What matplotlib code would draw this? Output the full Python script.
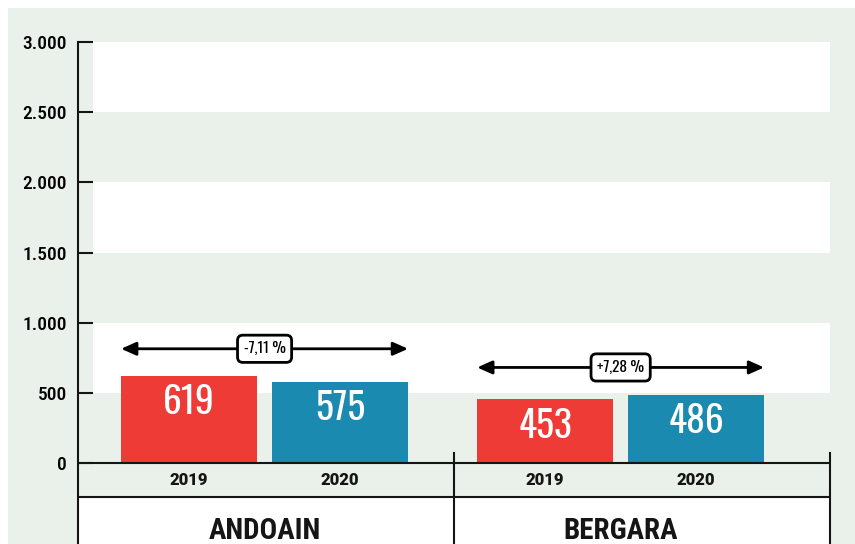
import matplotlib
matplotlib.use("Agg")
import matplotlib.pyplot as plt
from matplotlib.patches import Rectangle

# data
towns = ["ANDOAIN", "BERGARA"]
years = ["2019", "2020"]
values_2019 = [619, 453]
values_2020 = [575, 486]
changes = ["-7,11 %", "+7,28 %"]
yticks = [0, 500, 1000, 1500, 2000, 2500, 3000]
ytick_labels = ["0", "500", "1.000", "1.500", "2.000", "2.500", "3.000"]

RED = "#ee3b36"
BLUE = "#1a8ab0"
GREEN_BG = "#eaf0ea"
DARK = "#151515"
NUM_FONT = ["Oswald", "DejaVu Sans"]
COND_FONT = ["Roboto Condensed", "DejaVu Sans"]
BOLD_FONT = ["Roboto", "DejaVu Sans"]

fig = plt.figure(figsize=(8.55, 5.44), dpi=100)
fig.patch.set_facecolor("white")
# light green panel behind the chart
fig.patches.append(Rectangle((8 / 855, 0), 1, 536 / 544, transform=fig.transFigure,
                             facecolor=GREEN_BG, edgecolor="none", zorder=-10))

ax = fig.add_axes([78 / 855, 0, 752 / 855, 502 / 544])
ax.set_zorder(1)
ax.set_facecolor("none")
ymin = -577
ax.set_ylim(ymin, 3000)
ax.set_xlim(-0.524, 1.588)

# alternating white bands
for lo in [500, 1500, 2500]:
    ax.axhspan(lo, lo + 500, xmin=0.02, xmax=1, facecolor="white", edgecolor="none", zorder=0)

# row under the axis with the years, and the town row
row_y = -242
ax.axhspan(ymin, row_y, facecolor="white", edgecolor="none", zorder=0)
ax.axhline(0, color=DARK, lw=1.5, zorder=3)
ax.axhline(row_y, color=DARK, lw=1.5, zorder=3)
for xv in [0.532, 1.588]:
    ax.plot([xv, xv], [ymin, 71], color=DARK, lw=1.5, clip_on=False, zorder=3)

width = 0.382
off = 0.212
for i, town in enumerate(towns):
    for v, dx, col, yr in [(values_2019[i], -off, RED, years[0]), (values_2020[i], off, BLUE, years[1])]:
        ax.bar(i + dx, v, width=width, color=col, zorder=2)
        ax.text(i + dx, v - 190, str(v), color="white", fontsize=27, ha="center", va="center",
                family=NUM_FONT, zorder=4)
        ax.text(i + dx, -121, yr, fontsize=12, fontweight=900, ha="center", va="center",
                family=BOLD_FONT, color=DARK)
    ax.text(i, -483, town, fontsize=21, fontweight="bold", ha="center", va="center",
            family=COND_FONT, color=DARK)

    # arrow spanning both bars with the change label
    ya = max(values_2019[i], values_2020[i]) + 195
    left = i - off - width / 2
    right = i + off + width / 2
    ax.annotate("", xy=(left, ya), xytext=(right, ya),
                arrowprops=dict(arrowstyle="<|-|>,head_length=0.9,head_width=0.4",
                                color="black", lw=2, shrinkA=0, shrinkB=0), zorder=4)
    ax.text(i, ya, changes[i], fontsize=11, ha="center", va="center", family=NUM_FONT, zorder=5,
            bbox=dict(boxstyle="round,pad=0.4,rounding_size=0.35", fc="white", ec="black", lw=2))

ax.set_yticks(yticks)
ax.set_yticklabels(ytick_labels, family=COND_FONT, fontsize=14, fontweight=500)
ax.set_xticks([])
ax.tick_params(axis="y", direction="in", length=11, width=1.5, pad=8, color=DARK)
for s in ["top", "right", "bottom"]:
    ax.spines[s].set_visible(False)
ax.spines["left"].set_linewidth(1.5)
ax.spines["left"].set_color(DARK)

fig.savefig("out.png", dpi=100)
